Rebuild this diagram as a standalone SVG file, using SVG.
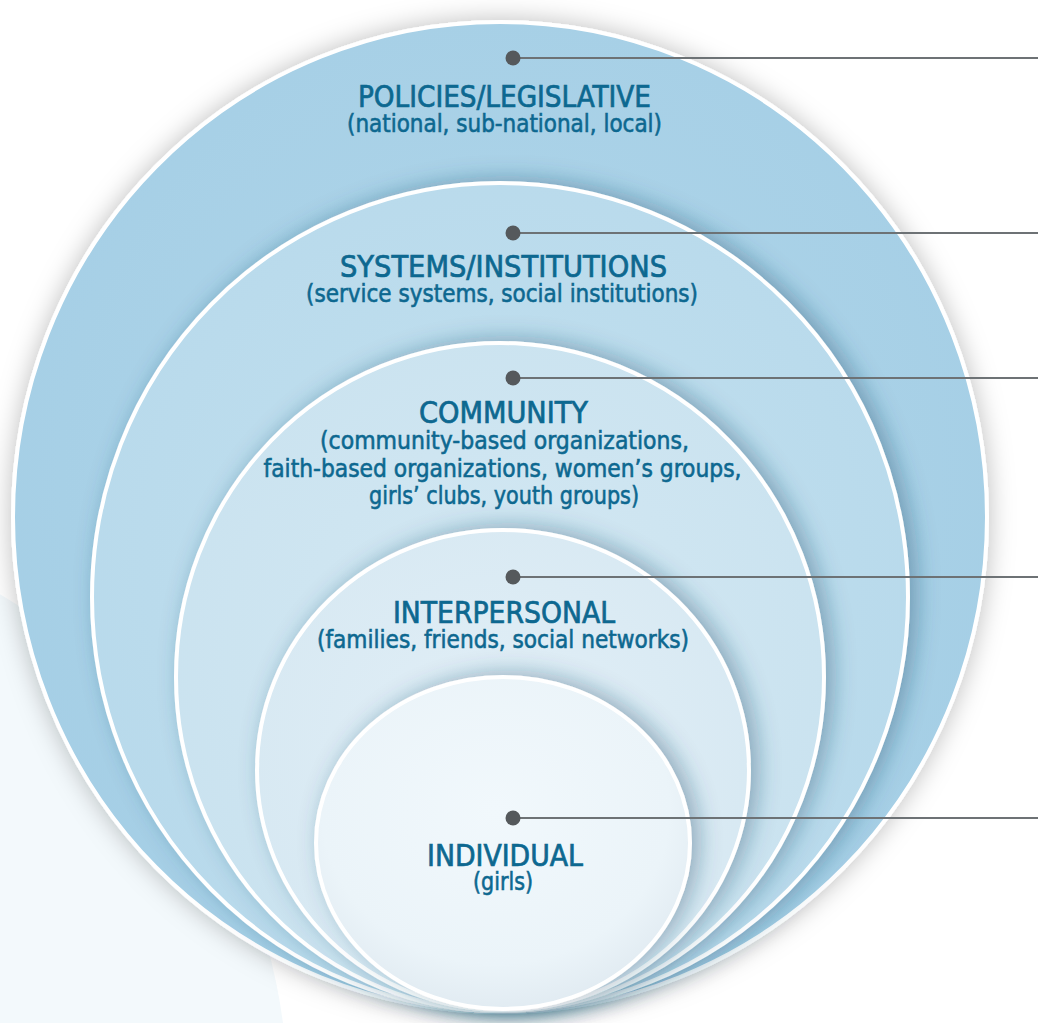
<svg xmlns="http://www.w3.org/2000/svg" width="1038" height="1023" viewBox="0 0 1038 1023">
  <defs>
    <style>
      .ring { stroke: #ffffff; stroke-width: 4; }
      .head { font-family: "Liberation Sans Narrow", "DejaVu Sans Condensed", "Liberation Sans", sans-serif; font-size: 30px; fill: #0d6890; stroke: #0d6890; stroke-width: 0.7; text-anchor: middle; }
      .sub { font-family: "Liberation Sans Narrow", "DejaVu Sans Condensed", "Liberation Sans", sans-serif; font-size: 24px; fill: #0d6890; stroke: #0d6890; stroke-width: 0.55; text-anchor: middle; }
      .leader { stroke: #6d7275; stroke-width: 2; fill: none; }
      .dot { fill: #55595c; }
    </style>
    <!-- soft grey halo around the whole stack -->
    <filter id="outerShadow" x="-10%" y="-10%" width="120%" height="120%">
      <feGaussianBlur in="SourceAlpha" stdDeviation="13"/>
      <feOffset dx="0" dy="0" result="blur"/>
      <feFlood flood-color="#000000" flood-opacity="0.26"/>
      <feComposite in2="blur" operator="in"/>
      <feMerge><feMergeNode/><feMergeNode in="SourceGraphic"/></feMerge>
    </filter>
    <!-- each inner disc casts a bluish shadow on the ring around it -->
    <filter id="ringShadow" x="-15%" y="-15%" width="130%" height="130%">
      <feGaussianBlur in="SourceAlpha" stdDeviation="11"/>
      <feOffset dx="7" dy="-2" result="blur"/>
      <feFlood flood-color="#1d4e6c" flood-opacity="0.4"/>
      <feComposite in2="blur" operator="in"/>
      <feMerge><feMergeNode/><feMergeNode in="SourceGraphic"/></feMerge>
    </filter>
    <radialGradient id="g1" cx="0.5" cy="0.45" r="0.6">
      <stop offset="0" stop-color="#b0d6ea"/>
      <stop offset="1" stop-color="#a4cee5"/>
    </radialGradient>
    <radialGradient id="g2" cx="0.5" cy="0.45" r="0.6">
      <stop offset="0" stop-color="#c2e0ef"/>
      <stop offset="1" stop-color="#b7d9eb"/>
    </radialGradient>
    <radialGradient id="g3" cx="0.5" cy="0.45" r="0.6">
      <stop offset="0" stop-color="#d3e8f3"/>
      <stop offset="1" stop-color="#c9e2ef"/>
    </radialGradient>
    <radialGradient id="g4" cx="0.5" cy="0.45" r="0.6">
      <stop offset="0" stop-color="#e2eff7"/>
      <stop offset="1" stop-color="#d6e8f2"/>
    </radialGradient>
    <radialGradient id="g5" cx="0.48" cy="0.4" r="0.62">
      <stop offset="0" stop-color="#f1f8fc"/>
      <stop offset="0.75" stop-color="#ebf4f9"/>
      <stop offset="1" stop-color="#e0eaf1"/>
    </radialGradient>
  </defs>

  <rect x="0" y="0" width="1038" height="1023" fill="#ffffff"/>
  <!-- pale wash in the lower left corner -->
  <circle cx="-300" cy="1100" r="588" fill="#f3f9fc"/>

  <g id="policies">
    <ellipse class="ring" cx="500" cy="517" rx="487" ry="495" fill="url(#g1)" filter="url(#outerShadow)"/>
    <text class="head" x="504.5" y="107" textLength="293" lengthAdjust="spacingAndGlyphs">POLICIES/LEGISLATIVE</text>
    <text class="sub" x="504.5" y="132" textLength="315" lengthAdjust="spacingAndGlyphs">(national, sub-national, local)</text>
  </g>

  <g id="systems">
    <ellipse class="ring" cx="500" cy="597" rx="408" ry="414" fill="url(#g2)" filter="url(#ringShadow)"/>
    <text class="head" x="503.5" y="277" textLength="327" lengthAdjust="spacingAndGlyphs">SYSTEMS/INSTITUTIONS</text>
    <text class="sub" x="502" y="302" textLength="392" lengthAdjust="spacingAndGlyphs">(service systems, social institutions)</text>
  </g>

  <g id="community">
    <ellipse class="ring" cx="500" cy="677" rx="324" ry="334" fill="url(#g3)" filter="url(#ringShadow)"/>
    <text class="head" x="503.5" y="423" textLength="169" lengthAdjust="spacingAndGlyphs">COMMUNITY</text>
    <text class="sub" x="504.5" y="449" textLength="369" lengthAdjust="spacingAndGlyphs">(community-based organizations,</text>
    <text class="sub" x="502.5" y="477" textLength="478" lengthAdjust="spacingAndGlyphs">faith-based organizations, women’s groups,</text>
    <text class="sub" x="504" y="504" textLength="270" lengthAdjust="spacingAndGlyphs">girls’ clubs, youth groups)</text>
  </g>

  <g id="interpersonal">
    <ellipse class="ring" cx="503" cy="770" rx="246" ry="240" fill="url(#g4)" filter="url(#ringShadow)"/>
    <text class="head" x="504" y="623" textLength="222" lengthAdjust="spacingAndGlyphs">INTERPERSONAL</text>
    <text class="sub" x="503" y="648" textLength="372" lengthAdjust="spacingAndGlyphs">(families, friends, social networks)</text>
  </g>

  <g id="individual">
    <ellipse class="ring" cx="503" cy="843" rx="187" ry="166" fill="url(#g5)" filter="url(#ringShadow)"/>
    <text class="head" x="505" y="866" textLength="156" lengthAdjust="spacingAndGlyphs">INDIVIDUAL</text>
    <text class="sub" x="503" y="890" textLength="60" lengthAdjust="spacingAndGlyphs">(girls)</text>
  </g>

  <g id="connectors">
    <line class="leader" x1="513" y1="58" x2="1038" y2="58"/>
    <line class="leader" x1="513" y1="233" x2="1038" y2="233"/>
    <line class="leader" x1="513" y1="378" x2="1038" y2="378"/>
    <line class="leader" x1="513" y1="577" x2="1038" y2="577"/>
    <line class="leader" x1="513" y1="818" x2="1038" y2="818"/>
    <circle class="dot" cx="513" cy="58" r="7.5"/>
    <circle class="dot" cx="513" cy="233" r="7.5"/>
    <circle class="dot" cx="513" cy="378" r="7.5"/>
    <circle class="dot" cx="513" cy="577" r="7.5"/>
    <circle class="dot" cx="513" cy="818" r="7.5"/>
  </g>
</svg>
